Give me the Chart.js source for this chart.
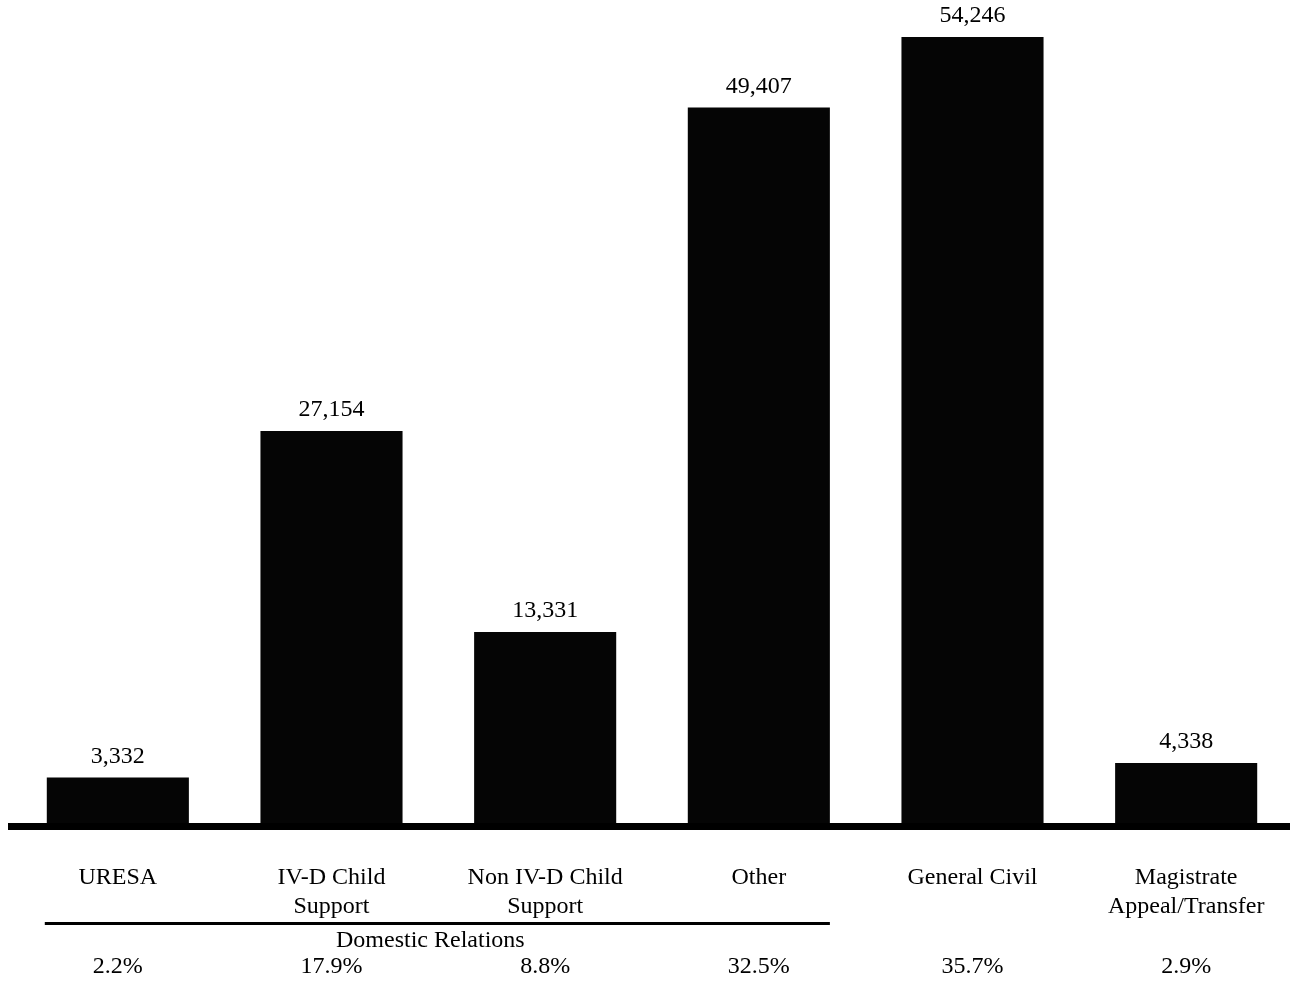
<!DOCTYPE html>
<html>
<head>
<meta charset="utf-8">
<script src="https://cdn.jsdelivr.net/npm/chart.js@4"></script>
<style>
  html, body { margin: 0; padding: 0; background: #fff; }
  canvas { display: block; }
</style>
</head>
<body>
<canvas id="chart" width="1294" height="981"></canvas>
<script>
const categories = [
  ['URESA'],
  ['IV-D Child', 'Support'],
  ['Non IV-D Child', 'Support'],
  ['Other'],
  ['General Civil'],
  ['Magistrate', 'Appeal/Transfer'],
]
const caseCounts = [3332, 27154, 13331, 49407, 54246, 4338]
const percentLabels = ['2.2%', '17.9%', '8.8%', '32.5%', '35.7%', '2.9%']
const groupLabel = 'Domestic Relations'
const groupRange = [0, 3]

const font = '"Liberation Serif", "Times New Roman", serif'

const annotate = {
  id: 'annotate',
  afterDatasetsDraw(chart) {
    const { ctx, chartArea, scales } = chart
    const bars = chart.getDatasetMeta(0).data
    ctx.save()

    // baseline
    ctx.fillStyle = '#000'
    ctx.fillRect(8, chartArea.bottom - 3, 1282, 7)

    ctx.textAlign = 'center'
    ctx.textBaseline = 'middle'
    ctx.font = '24px ' + font

    // value labels above bars
    bars.forEach((bar, i) => {
      ctx.fillText(caseCounts[i].toLocaleString('en-US'), bar.x, bar.y - 21)
    })

    // category labels
    categories.forEach((lines, i) => {
      const x = scales.x.getPixelForValue(i)
      lines.forEach((line, j) => {
        ctx.fillText(line, x, 878 + j * 29)
      })
    })

    // group bracket
    const left = bars[groupRange[0]].x - bars[groupRange[0]].width / 2
    const right = bars[groupRange[1]].x + bars[groupRange[1]].width / 2
    ctx.fillRect(left - 2, 922, right - left + 2, 3)
    ctx.fillText(groupLabel, (left + right) / 2 - 8, 941)

    // percentages
    percentLabels.forEach((p, i) => {
      ctx.fillText(p, scales.x.getPixelForValue(i), 967)
    })

    ctx.restore()
  }
}

new Chart(document.getElementById('chart'), {
  type: 'bar',
  data: {
    labels: categories.map((c) => c.join(' ')),
    datasets: [{
      data: caseCounts,
      backgroundColor: '#050505',
      borderWidth: 0,
      barPercentage: 0.665,
      categoryPercentage: 1,
    }],
  },
  options: {
    responsive: false,
    animation: false,
    layout: { padding: { left: 11, right: 1, top: 0, bottom: 155 } },
    scales: {
      x: { display: false },
      y: { display: false, min: 0, max: 56790 },
    },
    plugins: {
      legend: { display: false },
      tooltip: { enabled: false },
    },
  },
  plugins: [annotate],
})
</script>
</body>
</html>
